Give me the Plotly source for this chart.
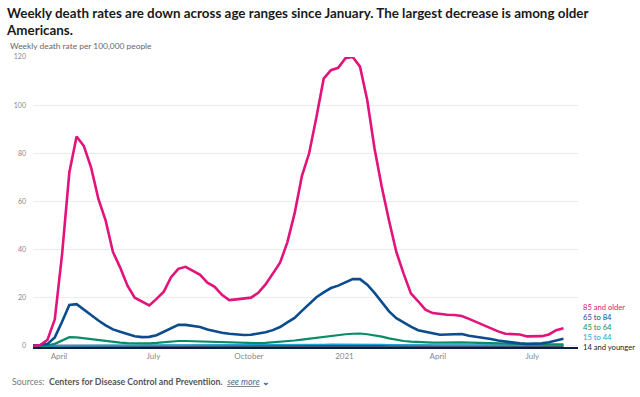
import plotly.graph_objects as go
import pandas as pd

# ---------------- data ----------------
weeks = pd.date_range("2020-03-07", periods=74, freq="7D")

age_85_plus = [0.0, 0.3, 2.5, 11, 38, 72, 87, 83, 74, 61,
               52, 39, 32.5, 25, 20, 18.5, 16.8, 19.5, 22.5, 28.5,
               32, 32.8, 31.1, 29.5, 26.2, 24.5, 21.2, 19, 19.3, 19.5,
               20, 22, 25.5, 30, 34.5, 43, 55, 70.5, 80, 95,
               111, 114.5, 115.5, 119.5, 120, 116, 102, 82, 66, 52,
               39, 30, 21.8, 18.5, 15, 13.6, 13.2, 12.9, 12.8, 12.4,
               11.2, 9.9, 8.7, 7.2, 6, 5, 5, 4.7, 3.9, 3.9,
               4, 4.7, 6.5, 7.3]

age_65_84 = [0.2, 0.3, 0.8, 3.5, 10, 17, 17.3, 15, 12.5, 10.5,
             8.5, 6.8, 5.8, 4.8, 4, 3.6, 3.7, 4.4, 5.8, 7.3,
             8.7, 8.7, 8.3, 7.8, 6.8, 6, 5.4, 5, 4.6, 4.5,
             4.6, 5.1, 5.6, 6.5, 7.8, 9.7, 11.6, 14.5, 17.5, 20.2,
             22.2, 24, 25, 26.5, 27.7, 27.7, 25.4, 22, 18, 14.3,
             11.5, 9.7, 8, 6.5, 5.7, 5.2, 4.6, 4.6, 4.7, 4.9,
             4.2, 3.8, 3.4, 2.8, 2.2, 1.7, 1.3, 1.0, 0.8, 0.9,
             1.0, 1.5, 2.1, 2.9]

age_45_64 = [0.0, 0.1, 0.2, 0.8, 2.2, 3.6, 3.5, 3.1, 2.6, 2.3,
             2.0, 1.6, 1.3, 1.1, 1.0, 1.0, 1.0, 1.2, 1.5, 1.8,
             2.0, 2.0, 1.9, 1.8, 1.6, 1.4, 1.3, 1.2, 1.1, 1.0,
             1.0, 1.1, 1.2, 1.4, 1.6, 1.9, 2.2, 2.6, 3.0, 3.4,
             3.8, 4.2, 4.5, 4.8, 5.0, 5.1, 4.8, 4.4, 3.8, 3.1,
             2.5, 2.0, 1.7, 1.5, 1.4, 1.3, 1.3, 1.4, 1.4, 1.4,
             1.3, 1.2, 1.1, 1.0, 0.9, 0.8, 0.7, 0.6, 0.6, 0.6,
             0.6, 0.6, 0.6, 0.6]

age_15_44 = [0.0, 0.0, 0.02, 0.08, 0.2, 0.3, 0.3, 0.28, 0.25, 0.22,
             0.2, 0.18, 0.17, 0.17, 0.18, 0.2, 0.22, 0.25, 0.28, 0.3,
             0.32, 0.32, 0.3, 0.28, 0.26, 0.24, 0.22, 0.21, 0.2, 0.2,
             0.2, 0.21, 0.22, 0.24, 0.26, 0.3, 0.34, 0.38, 0.42, 0.46,
             0.5, 0.54, 0.57, 0.6, 0.62, 0.62, 0.58, 0.52, 0.46, 0.4,
             0.35, 0.31, 0.28, 0.27, 0.27, 0.28, 0.3, 0.32, 0.33, 0.33,
             0.32, 0.3, 0.28, 0.26, 0.24, 0.22, 0.2, 0.2, 0.2, 0.2,
             0.21, 0.24, 0.28, 0.32]

age_14_under = [0.0] * 3 + [0.01] * 71

series = [
    ("14 and younger", age_14_under, "#0b1f40", 2.0),
    ("15 to 44", age_15_44, "#1a9fd8", 1.8),
    ("45 to 64", age_45_64, "#0a8c66", 2.2),
    ("65 to 84", age_65_84, "#0b4c8e", 2.6),
    ("85 and older", age_85_plus, "#e2137a", 2.6),
]
label_y = {"85 and older": 16.2, "65 to 84": 12.0, "45 to 64": 7.9,
           "15 to 44": 3.7, "14 and younger": -0.3}

x_tick_vals = ["2020-04-01", "2020-07-01", "2020-10-01", "2021-01-01", "2021-04-01", "2021-07-01"]
x_tick_text = ["April", "July", "October", "2021", "April", "July"]
y_tick_vals = [0, 20, 40, 60, 80, 100, 120]

title_text = ("<b>Weekly death rates are down across age ranges since January. The largest decrease is among older"
              "<br>Americans.</b>")

# ---------------- layout geometry ----------------
W, H = 640, 397
L, R, T, B = 33, 62, 57, 50
pw, ph = W - L - R, H - T - B

def px_x(p):
    return (p - L) / pw

def px_y(p):
    return (H - B - p) / ph

FONT = "Lato"

fig = go.Figure()
for name, vals, color, width in series:
    fig.add_trace(go.Scatter(x=weeks, y=vals, mode="lines", name=name,
                             line=dict(color=color, width=width), hoverinfo="skip"))
    fig.add_annotation(x=px_x(581), xref="paper", y=label_y[name], yref="y",
                       text=name, showarrow=False, xanchor="left", yanchor="middle",
                       font=dict(family=FONT, size=7.6, color=color))

fig.update_layout(
    width=W, height=H,
    margin=dict(l=L, r=R, t=T, b=B, autoexpand=False),
    paper_bgcolor="white", plot_bgcolor="white",
    showlegend=False,
    font=dict(family=FONT, color="#888"),
    xaxis=dict(range=["2020-03-07", "2021-08-14"], tickvals=x_tick_vals, ticktext=x_tick_text,
               showgrid=False, zeroline=False, showline=True, linecolor="#0b1f40", linewidth=2,
               ticks="", tickfont=dict(size=8, color="#888"), fixedrange=True, automargin=False),
    yaxis=dict(range=[-0.5, 120], tickvals=y_tick_vals, showgrid=True, gridcolor="#ececec",
               gridwidth=1, zeroline=False, showline=False, ticks="", ticklabelstandoff=6,
               tickfont=dict(size=7, color="#888"), fixedrange=True, automargin=False),
)

fig.add_annotation(x=px_x(4), xref="paper", y=px_y(3), yref="paper",
                   text=title_text, showarrow=False, xanchor="left", yanchor="top", align="left",
                   font=dict(family=FONT, size=13.4, color="#1a1a1a"))
fig.add_annotation(x=px_x(8), xref="paper", y=px_y(46), yref="paper",
                   text="Weekly death rate per 100,000 people", showarrow=False,
                   xanchor="left", yanchor="middle", font=dict(family=FONT, size=8.4, color="#666"))
fig.add_annotation(x=px_x(10), xref="paper", y=px_y(381), yref="paper",
                   text=("Sources:  <b><span style='color:#555'>Centers for Disease Control and Preventiion.</span></b>"
                         "  <i><u><span style='color:#4a6a8a'>see more</span></u></i> "
                         "<b><span style='color:#1a5fa0'>⌄</span></b>"),
                   showarrow=False, xanchor="left", yanchor="middle",
                   font=dict(family=FONT, size=8.8, color="#777"))

fig.write_html("out.html", config={"displayModeBar": False},
               post_script="document.body.style.margin='0';")
